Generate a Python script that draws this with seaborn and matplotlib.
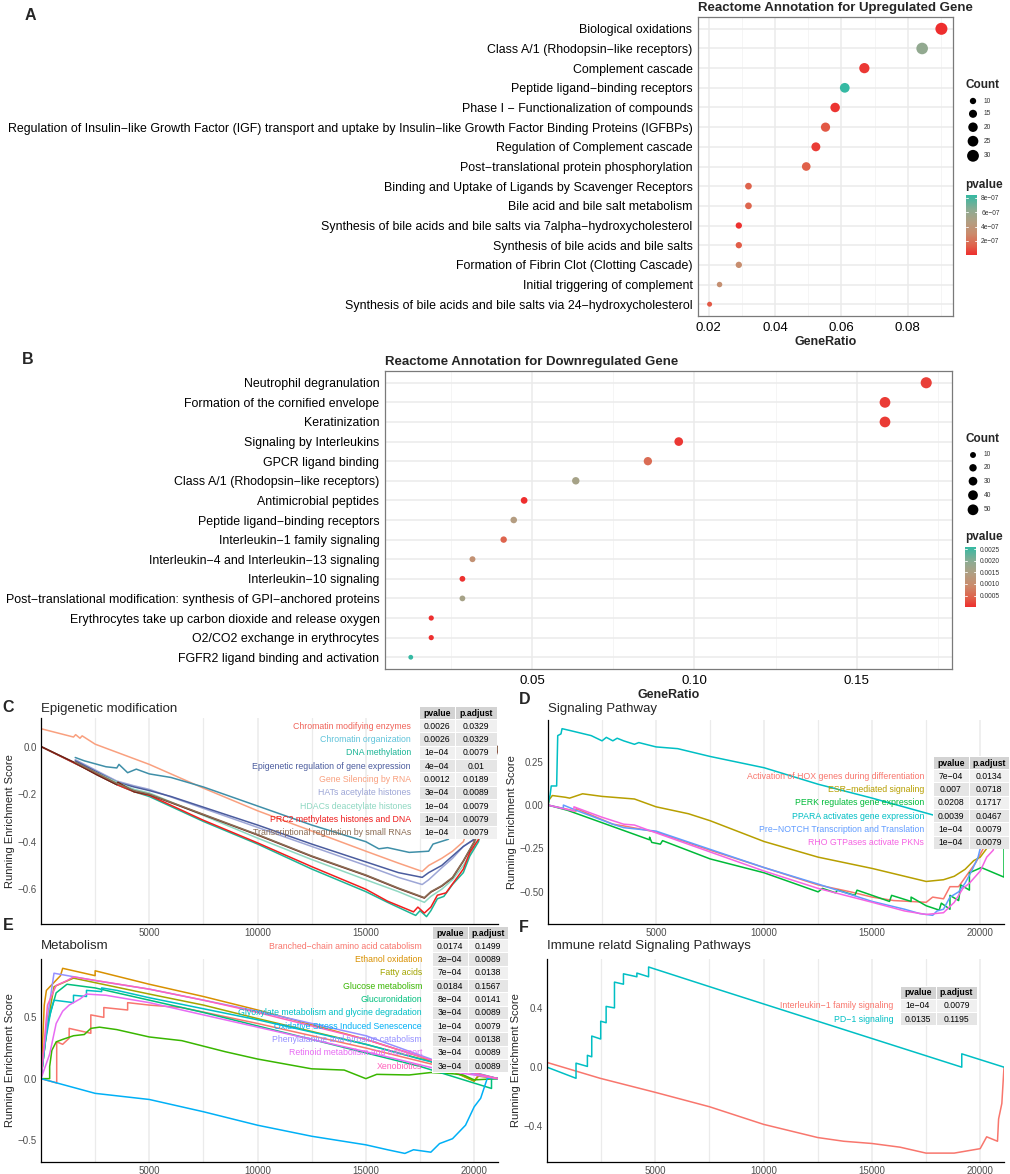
import numpy as np
import pandas as pd
import matplotlib
matplotlib.use("Agg")
import matplotlib.pyplot as plt
import seaborn as sns
from matplotlib.colors import LinearSegmentedColormap, Normalize
from matplotlib.cm import ScalarMappable
from matplotlib.patches import Rectangle

# ---------------- panel A: Reactome, upregulated ----------------
up_terms = [
    "Biological oxidations",
    "Class A/1 (Rhodopsin−like receptors)",
    "Complement cascade",
    "Peptide ligand−binding receptors",
    "Phase I − Functionalization of compounds",
    "Regulation of Insulin−like Growth Factor (IGF) transport and uptake by Insulin−like Growth Factor Binding Proteins (IGFBPs)",
    "Regulation of Complement cascade",
    "Post−translational protein phosphorylation",
    "Binding and Uptake of Ligands by Scavenger Receptors",
    "Bile acid and bile salt metabolism",
    "Synthesis of bile acids and bile salts via 7alpha−hydroxycholesterol",
    "Synthesis of bile acids and bile salts",
    "Formation of Fibrin Clot (Clotting Cascade)",
    "Initial triggering of complement",
    "Synthesis of bile acids and bile salts via 24−hydroxycholesterol",
]
up_ratio = [0.0901, 0.0843, 0.0669, 0.0610, 0.0581, 0.0552, 0.0523, 0.0494,
            0.0320, 0.0320, 0.0291, 0.0291, 0.0291, 0.0233, 0.0203]
up_count = [31, 29, 23, 21, 20, 19, 18, 17, 11, 11, 10, 10, 10, 8, 7]
up_pvalue = [2e-09, 6.1e-07, 3e-08, 8.4e-07, 2e-08, 1.1e-07, 4e-08, 1.3e-07,
             1.4e-07, 1.5e-07, 1e-08, 1.2e-07, 3.2e-07, 3.4e-07, 1.1e-07]
up_count_breaks = [10, 15, 20, 25, 30]
up_p_ticks = [2e-07, 4e-07, 6e-07, 8e-07]
up_p_labels = ["2e−07", "4e−07", "6e−07", "8e−07"]

# ---------------- panel B: Reactome, downregulated ----------------
down_terms = [
    "Neutrophil degranulation",
    "Formation of the cornified envelope",
    "Keratinization",
    "Signaling by Interleukins",
    "GPCR ligand binding",
    "Class A/1 (Rhodopsin−like receptors)",
    "Antimicrobial peptides",
    "Peptide ligand−binding receptors",
    "Interleukin−1 family signaling",
    "Interleukin−4 and Interleukin−13 signaling",
    "Interleukin−10 signaling",
    "Post−translational modification: synthesis of GPI−anchored proteins",
    "Erythrocytes take up carbon dioxide and release oxygen",
    "O2/CO2 exchange in erythrocytes",
    "FGFR2 ligand binding and activation",
]
down_ratio = [0.1714, 0.1587, 0.1587, 0.0952, 0.0857, 0.0635, 0.0476, 0.0444,
              0.0413, 0.0317, 0.0286, 0.0286, 0.0190, 0.0190, 0.0127]
down_count = [54, 50, 50, 30, 27, 20, 15, 14, 13, 10, 9, 9, 6, 6, 4]
down_pvalue = [1.5e-04, 1.2e-04, 1.2e-04, 1.0e-04, 5.5e-04, 1.6e-03, 1e-05, 1.4e-03,
               4.5e-04, 1.1e-03, 4e-05, 1.6e-03, 3e-05, 3e-05, 2.59e-03]
down_count_breaks = [10, 20, 30, 40, 50]
down_p_ticks = [0.0005, 0.0010, 0.0015, 0.0020, 0.0025]
down_p_labels = ["0.0005", "0.0010", "0.0015", "0.0020", "0.0025"]

# ---------------- panel C: Epigenetic modification ----------------
c_terms = ["Chromatin modifying enzymes", "Chromatin organization", "DNA methylation",
           "Epigenetic regulation of gene expression", "Gene Silencing by RNA",
           "HATs acetylate histones", "HDACs deacetylate histones",
           "PRC2 methylates histones and DNA", "Transcriptional regulation by small RNAs"]
c_pvalue = ["0.0026", "0.0026", "1e−04", "4e−04", "0.0012", "3e−04", "1e−04", "1e−04", "1e−04"]
c_padjust = ["0.0329", "0.0329", "0.0079", "0.01", "0.0189", "0.0089", "0.0079", "0.0079", "0.0079"]
c_label_colors = ["#F0645A", "#5FC3DA", "#1DB597", "#4B5C9E", "#F9A07F",
                  "#9DA6D6", "#8FD8C2", "#EE1C1C", "#8B6D55"]
c_line_colors = ["#6E2418", "#3F8FA8", "#1DB597", "#4B5C9E", "#F9A07F",
                 "#9DA6D6", "#8FD8C2", "#F21E1E", "#8B6D55"]

c_chrom_modifying = [(0, 0), (1500, -0.065), (2600, -0.12), (3500, -0.16), (3550, -0.15),
                     (4300, -0.19), (5000, -0.202), (7500, -0.287), (10000, -0.372),
                     (12500, -0.462), (15000, -0.542), (16500, -0.597), (17700, -0.637),
                     (18000, -0.612), (18500, -0.587), (19000, -0.552), (19500, -0.482),
                     (20000, -0.402), (21100, 0.0)]
c_chrom_org = [(1580, -0.046), (2000, -0.06), (3000, -0.085), (3500, -0.09), (3600, -0.075),
               (4000, -0.11), (4400, -0.095), (5000, -0.115), (6000, -0.13), (7500, -0.17),
               (10000, -0.25), (12500, -0.33), (15000, -0.40), (15600, -0.43), (16000, -0.425),
               (17000, -0.445), (17900, -0.44), (18100, -0.41), (18800, -0.39), (19500, -0.3),
               (20500, -0.15), (21100, 0.0)]
c_dna_methyl = [(0, 0), (2000, -0.09), (3500, -0.16), (4300, -0.19), (5000, -0.21),
                (7500, -0.315), (10000, -0.41), (12500, -0.515), (15000, -0.61), (16000, -0.655),
                (17300, -0.71), (17500, -0.69), (17800, -0.715), (18000, -0.69), (18300, -0.64),
                (18600, -0.63), (19000, -0.58), (19500, -0.53), (19800, -0.46), (20200, -0.4),
                (21100, 0.0)]
c_epigen = [(1580, -0.06), (3500, -0.15), (4300, -0.17), (5000, -0.185), (6000, -0.21),
            (7500, -0.255), (10000, -0.33), (12500, -0.41), (15000, -0.485), (16500, -0.53),
            (17600, -0.55), (17900, -0.53), (18500, -0.5), (19000, -0.46), (19500, -0.42),
            (20000, -0.39), (21100, 0.0)]
c_gene_silencing = [(0, 0.075), (1500, 0.04), (1600, 0.05), (1800, 0.035), (1900, 0.045),
                    (2500, 0.01), (5000, -0.075), (7500, -0.175), (10000, -0.27), (12500, -0.355),
                    (15000, -0.44), (16500, -0.49), (17600, -0.525), (17900, -0.5), (18500, -0.47),
                    (19000, -0.44), (19500, -0.4), (21100, 0.0)]
c_hats = [(1580, -0.055), (3500, -0.145), (4300, -0.165), (5000, -0.18), (7500, -0.26),
          (10000, -0.34), (12500, -0.42), (15000, -0.5), (16500, -0.55), (17600, -0.58),
          (17900, -0.56), (18500, -0.51), (19000, -0.47), (19500, -0.42), (20000, -0.39),
          (21100, 0.0)]
c_hdac = [(1580, -0.07), (3500, -0.15), (4300, -0.18), (5000, -0.195), (7500, -0.29),
          (10000, -0.385), (12500, -0.475), (15000, -0.56), (16500, -0.61), (17700, -0.655),
          (18000, -0.63), (18500, -0.6), (19000, -0.56), (19500, -0.5), (20000, -0.42),
          (21100, 0.0)]
c_prc2 = [(0, 0), (2000, -0.09), (3500, -0.16), (4300, -0.19), (5000, -0.205), (7500, -0.31),
          (10000, -0.405), (12500, -0.505), (15000, -0.6), (16000, -0.65), (17200, -0.695),
          (17400, -0.675), (17700, -0.7), (18000, -0.675), (18300, -0.625), (18700, -0.615),
          (19100, -0.565), (19500, -0.515), (19800, -0.445), (20200, -0.39), (21100, 0.0)]
c_transcr = [(1580, -0.065), (3500, -0.155), (4300, -0.185), (5000, -0.2), (7500, -0.285),
             (10000, -0.37), (12500, -0.46), (15000, -0.54), (16500, -0.595), (17700, -0.635),
             (18000, -0.61), (18500, -0.585), (19000, -0.55), (19500, -0.48), (20000, -0.40),
             (21100, 0.0)]
c_curves = [c_chrom_modifying, c_chrom_org, c_dna_methyl, c_epigen, c_gene_silencing,
            c_hats, c_hdac, c_prc2, c_transcr]
c_draw_order = [4, 1, 5, 3, 6, 2, 7, 0, 8]

# ---------------- panel D: Signaling Pathway ----------------
d_terms = ["Activation of HOX genes during differentiation", "ESR−mediated signaling",
           "PERK regulates gene expression", "PPARA activates gene expression",
           "Pre−NOTCH Transcription and Translation", "RHO GTPases activate PKNs"]
d_pvalue = ["7e−04", "0.007", "0.0208", "0.0039", "1e−04", "1e−04"]
d_padjust = ["0.0134", "0.0718", "0.1717", "0.0467", "0.0079", "0.0079"]
d_colors = ["#F8766D", "#B79F00", "#00BA38", "#00BFC4", "#619CFF", "#F564E3"]

d_hox = [(0, 0), (1300, -0.035), (1300, -0.02), (3000, -0.11), (3500, -0.12), (5000, -0.155),
         (7500, -0.26), (10000, -0.36), (12500, -0.46), (14000, -0.5), (15000, -0.53),
         (16000, -0.55), (17500, -0.56), (17800, -0.53), (18300, -0.54), (18600, -0.47),
         (19000, -0.47), (19400, -0.40), (19800, -0.33), (20100, -0.26), (21100, 0.0)]
d_esr = [(0, 0), (50, 0.03), (200, 0.055), (800, 0.045), (1000, 0.04), (1600, 0.065),
         (2500, 0.05), (4000, 0.035), (5000, -0.01), (6500, -0.05), (7500, -0.09),
         (10000, -0.21), (12500, -0.3), (15000, -0.365), (16500, -0.41), (17500, -0.44),
         (18300, -0.43), (18800, -0.41), (19300, -0.37), (19700, -0.32), (20000, -0.3),
         (20300, -0.25), (21100, 0.0)]
d_perk = [(0, 0), (900, -0.03), (4700, -0.2), (4700, -0.185), (4800, -0.215), (5200, -0.225),
          (5300, -0.205), (7500, -0.31), (10000, -0.39), (12500, -0.5), (12700, -0.48),
          (13300, -0.505), (13400, -0.49), (14200, -0.52), (14300, -0.49), (15000, -0.52),
          (15800, -0.555), (15900, -0.52), (16800, -0.555), (16800, -0.53), (17500, -0.58),
          (18100, -0.605), (18200, -0.565), (18600, -0.6), (18600, -0.52), (19000, -0.55),
          (19100, -0.46), (19500, -0.49), (19500, -0.39), (20050, -0.36), (21100, -0.415),
          (21100, 0.0)]
d_ppara = [(0, 0), (100, 0.06), (150, 0.11), (400, 0.11), (450, 0.40), (600, 0.41),
           (650, 0.44), (1000, 0.43), (2000, 0.40), (2500, 0.37), (2700, 0.39), (3000, 0.37),
           (3200, 0.385), (3500, 0.37), (4000, 0.35), (4200, 0.36), (5000, 0.335),
           (6000, 0.325), (7500, 0.28), (10000, 0.215), (12500, 0.12), (15000, 0.04),
           (17900, -0.06), (18500, -0.1), (21100, 0.0)]
d_notch = [(0, 0), (711, -0.02), (711, 0.0), (1300, -0.03), (3000, -0.11), (3500, -0.13),
           (5000, -0.15), (7500, -0.255), (10000, -0.36), (12500, -0.455), (15000, -0.555),
           (16500, -0.6), (17200, -0.625), (17800, -0.635), (18000, -0.61), (18300, -0.6),
           (18600, -0.53), (19000, -0.5), (19300, -0.45), (19600, -0.38), (19900, -0.3),
           (20000, -0.25), (21100, 0.0)]
d_rho = [(0, 0), (1200, -0.035), (1200, -0.01), (2500, -0.07), (3500, -0.11), (4000, -0.115),
         (5000, -0.16), (7500, -0.27), (10000, -0.38), (12500, -0.48), (15000, -0.56),
         (16500, -0.61), (17500, -0.63), (18300, -0.62), (18800, -0.56), (19200, -0.48),
         (19500, -0.45), (20000, -0.38), (20300, -0.3), (20600, -0.26), (21100, 0.0)]
d_curves = [d_hox, d_esr, d_perk, d_ppara, d_notch, d_rho]

# ---------------- panel E: Metabolism ----------------
e_terms = ["Branched−chain amino acid catabolism", "Ethanol oxidation", "Fatty acids",
           "Glucose metabolism", "Glucuronidation", "Glyoxylate metabolism and glycine degradation",
           "Oxidative Stress Induced Senescence", "Phenylalanine and tyrosine catabolism",
           "Retinoid metabolism and transport", "Xenobiotics"]
e_pvalue = ["0.0174", "2e−04", "7e−04", "0.0184", "8e−04", "3e−04", "1e−04", "7e−04", "3e−04", "3e−04"]
e_padjust = ["0.1499", "0.0089", "0.0138", "0.1567", "0.0141", "0.0089", "0.0079", "0.0138", "0.0089", "0.0089"]
e_colors = ["#F8766D", "#D89000", "#A3A500", "#39B600", "#00BF7D",
            "#00BFC4", "#00B0F6", "#9590FF", "#E76BF3", "#FF62BC"]

e_branched = [(0, 0), (725, -0.035), (725, 0.30), (1000, 0.28), (1300, 0.33), (1300, 0.41),
              (2300, 0.37), (2300, 0.52), (2900, 0.50), (2900, 0.58), (4000, 0.56), (4000, 0.62),
              (5000, 0.60), (6500, 0.58), (10000, 0.45), (15000, 0.25), (18000, 0.12),
              (20000, 0.04), (21100, 0.0)]
e_ethanol = [(0, 0), (150, 0.6), (250, 0.72), (900, 0.84), (1000, 0.90), (2500, 0.84),
             (2500, 0.88), (5000, 0.77), (7500, 0.67), (10000, 0.56), (12500, 0.44),
             (15000, 0.32), (17500, 0.18), (20000, -0.02), (20200, 0.03), (21100, 0.0)]
e_fatty = [(0, 0), (300, 0.45), (600, 0.75), (1500, 0.82), (5000, 0.69), (7500, 0.6),
           (10000, 0.49), (15000, 0.28), (18000, 0.14), (20000, -0.02), (20200, 0.02), (21100, 0.0)]
e_glucose = [(0, 0), (400, 0.0), (400, 0.1), (500, 0.23), (700, 0.3), (1000, 0.32), (1500, 0.35),
             (2000, 0.36), (2300, 0.41), (2700, 0.42), (3500, 0.40), (5000, 0.34), (6500, 0.31),
             (8500, 0.22), (10000, 0.16), (12500, 0.08), (14000, 0.07), (15000, 0.0),
             (15500, 0.035), (17000, 0.03), (18000, 0.05), (19000, 0.04), (19500, 0.03),
             (20000, -0.01), (21100, 0.0)]
e_glucuron = [(0, 0), (300, 0.45), (700, 0.7), (1200, 0.77), (2500, 0.74), (5000, 0.64),
              (7500, 0.54), (10000, 0.43), (12500, 0.32), (15000, 0.21), (17500, 0.1),
              (20800, -0.08), (20800, 0.0), (21100, 0.0)]
e_glyox = [(0, 0), (200, 0.3), (450, 0.55), (600, 0.64), (1500, 0.62), (1500, 0.68),
           (2100, 0.67), (2100, 0.72), (2800, 0.71), (2800, 0.74), (3500, 0.72), (5000, 0.66),
           (7500, 0.57), (10000, 0.48), (12500, 0.38), (15000, 0.28), (17500, 0.16),
           (20000, 0.05), (21100, 0.0)]
e_oxid = [(0, 0), (2500, -0.12), (5000, -0.17), (7500, -0.27), (10000, -0.38), (12500, -0.47),
          (15000, -0.54), (16000, -0.58), (16800, -0.61), (17200, -0.58), (18000, -0.6),
          (18400, -0.53), (19000, -0.49), (19600, -0.38), (20000, -0.23), (20300, -0.16),
          (20600, 0.0), (20800, 0.01), (21100, 0.0)]
e_phenyl = [(0, 0), (300, 0.5), (600, 0.86), (2500, 0.8), (5000, 0.73), (7500, 0.64),
            (10000, 0.55), (12500, 0.45), (15000, 0.35), (18000, 0.16), (20000, 0.04), (21100, 0.0)]
e_retinoid = [(0, 0), (400, 0.2), (700, 0.45), (1000, 0.55), (1300, 0.6), (1800, 0.65),
              (2100, 0.69), (3000, 0.68), (5000, 0.62), (7500, 0.52), (10000, 0.42),
              (12500, 0.32), (15000, 0.22), (18500, 0.07), (21100, 0.0)]
e_xeno = [(0, 0), (300, 0.6), (700, 0.76), (1200, 0.8), (1500, 0.83), (5000, 0.73),
          (7500, 0.64), (10000, 0.54), (12500, 0.43), (15000, 0.32), (17500, 0.18),
          (19500, 0.07), (21100, 0.0)]
e_curves = [e_branched, e_ethanol, e_fatty, e_glucose, e_glucuron, e_glyox,
            e_oxid, e_phenyl, e_retinoid, e_xeno]

# ---------------- panel F: Immune related ----------------
f_terms = ["Interleukin−1 family signaling", "PD−1 signaling"]
f_pvalue = ["1e−04", "0.0135"]
f_padjust = ["0.0079", "0.1195"]
f_colors = ["#F8766D", "#00BFC4"]

f_il1 = [(0, 0.032), (2450, -0.075), (5000, -0.17), (7500, -0.267), (10000, -0.386),
         (12500, -0.475), (13700, -0.5), (15000, -0.515), (16300, -0.54), (17500, -0.58),
         (18800, -0.58), (20000, -0.55), (20300, -0.47), (20800, -0.5), (20850, -0.35),
         (21000, -0.245), (21100, 0.0)]
f_pd1 = [(0, 0), (1340, -0.075), (1340, 0.027), (1865, 0.005), (1865, 0.08), (2066, 0.07),
         (2066, 0.21), (2480, 0.19), (2480, 0.31), (2730, 0.30), (2730, 0.41), (3115, 0.40),
         (3115, 0.574), (3530, 0.56), (3530, 0.63), (4150, 0.61), (4150, 0.635), (4690, 0.61),
         (4690, 0.676), (8000, 0.52), (11000, 0.38), (19150, 0.0), (19150, 0.09), (21100, 0.0)]
f_curves = [f_il1, f_pd1]

gsea_xticks = [5000, 10000, 15000, 20000]

# ---------------- layout helpers (pixel boxes) ----------------
W, H = 1010, 1174

sns.set_theme(style="white")
plt.rcParams["font.family"] = ["Liberation Sans", "DejaVu Sans"]
plt.rcParams["axes.unicode_minus"] = True

pv_cmap = LinearSegmentedColormap.from_list(
    "pv", [(0.0, "#EE2E2E"), (0.15, "#E0604A"), (0.35, "#CB8A6B"),
           (0.55, "#B29E82"), (0.75, "#8EAB92"), (1.0, "#35B9A3")])


def box(left, top, right, bottom):
    return [left / W, 1 - bottom / H, (right - left) / W, (bottom - top) / H]


def fx(x):
    return x / W


def fy(y):
    return 1 - y / H


def area(c, sizes, norm):
    return sizes[0] + (c - norm[0]) / (norm[1] - norm[0]) * (sizes[1] - sizes[0])


def dot_panel(fig, rect, terms, ratio, count, pvalue, sizes, size_norm, title,
              xticks, xminor, xfmt, breaks, legend_x, legend_y, p_ticks, p_labels, cbar_box):
    ax = fig.add_axes(box(*rect))
    df = pd.DataFrame({"Description": terms, "GeneRatio": ratio, "Count": count, "pvalue": pvalue})
    sns.scatterplot(data=df, x="GeneRatio", y="Description", hue="pvalue", palette=pv_cmap,
                    hue_norm=(min(pvalue), max(pvalue)), size="Count", sizes=sizes,
                    size_norm=size_norm, linewidth=0, legend=False, ax=ax, zorder=3)
    n = len(terms)
    ax.set_ylim(n - 0.4, -0.6)
    lo, hi = min(ratio), max(ratio)
    pad = 0.05 * (hi - lo)
    ax.set_xlim(lo - pad, hi + pad)
    ax.set_xticks(xticks)
    ax.set_xticklabels([xfmt.format(v) for v in xticks])
    ax.set_xticks(xminor, minor=True)
    ax.grid(True, which="major", color="#EBEBEB", linewidth=1.1)
    ax.grid(True, which="minor", axis="x", color="#F4F4F4", linewidth=0.6)
    ax.set_axisbelow(True)
    for sp in ax.spines.values():
        sp.set_visible(True)
        sp.set_color("#7A7A7A")
        sp.set_linewidth(0.9)
    ax.tick_params(axis="both", which="major", length=2.5, width=0.6, color="#333333",
                   labelsize=8.9, labelcolor="black", pad=1.5)
    ax.tick_params(axis="x", which="major", labelsize=9.5, pad=2)
    ax.tick_params(which="minor", length=0)
    ax.set_ylabel("")
    ax.set_xlabel("GeneRatio", fontsize=9, weight="bold", labelpad=1)
    ax.set_title(title, loc="left", fontsize=9.5, weight="bold", pad=4)

    # size legend
    fig.text(fx(legend_x), fy(legend_y), "Count", fontsize=8.5, weight="bold", va="center")
    lax = fig.add_axes(box(legend_x - 2, legend_y + 6, legend_x + 45, legend_y + 84))
    lax.set_xlim(0, 47)
    lax.set_ylim(78, 0)
    lax.axis("off")
    ys = [10 + 12.5 * i + 0.3 * i * i for i in range(len(breaks))]
    lax.scatter([10] * len(breaks), ys, s=[area(b, sizes, size_norm) for b in breaks],
                color="black", linewidth=0, clip_on=False)
    for b, yy in zip(breaks, ys):
        lax.text(21, yy, str(b), fontsize=4.8, va="center", color="#333333")

    # colour bar
    fig.text(fx(legend_x), fy(cbar_box[1] - 10), "pvalue", fontsize=8.5, weight="bold", va="center")
    cax = fig.add_axes(box(*cbar_box))
    sm = ScalarMappable(norm=Normalize(min(pvalue), max(pvalue)), cmap=pv_cmap)
    cb = fig.colorbar(sm, cax=cax)
    cb.outline.set_visible(False)
    cb.set_ticks(p_ticks)
    cb.set_ticklabels(p_labels)
    cax.tick_params(length=0, labelsize=4.8, labelcolor="#333333", pad=3)
    for t in p_ticks:
        cax.axhline(t, xmin=0, xmax=0.2, color="white", lw=0.6)
        cax.axhline(t, xmin=0.8, xmax=1, color="white", lw=0.6)
    return ax


def gsea_panel(fig, rect, terms, curves, colors, order, title, ylim, yticks, title_pad,
               hidden_xlabels=()):
    ax = fig.add_axes(box(*rect))
    frames = []
    for i in order:
        pts = curves[i]
        frames.append(pd.DataFrame({"rank": [p[0] for p in pts], "score": [p[1] for p in pts],
                                    "Description": terms[i]}))
    df = pd.concat(frames, ignore_index=True)
    sns.lineplot(data=df, x="rank", y="score", hue="Description",
                 hue_order=[terms[i] for i in order],
                 palette={terms[i]: colors[i] for i in order},
                 sort=False, estimator=None, linewidth=1.1, legend=False, ax=ax)
    ax.set_xlim(0, 21100)
    ax.set_ylim(*ylim)
    ax.set_xticks(gsea_xticks)
    ax.set_xticklabels(["" if v in hidden_xlabels else str(v) for v in gsea_xticks])
    ax.set_xticks([2500, 7500, 12500, 17500], minor=True)
    ax.set_yticks(yticks)
    ax.grid(True, axis="x", which="major", color="#EBEBEB", linewidth=1.1)
    ax.grid(True, axis="x", which="minor", color="#EBEBEB", linewidth=0.9)
    ax.grid(False, axis="y")
    ax.set_axisbelow(True)
    for side in ("top", "right"):
        ax.spines[side].set_visible(False)
    for side in ("left", "bottom"):
        ax.spines[side].set_color("black")
        ax.spines[side].set_linewidth(0.9)
    ax.tick_params(axis="both", which="major", length=2, width=0.6, color="#333333",
                   labelsize=7, labelcolor="#4D4D4D", pad=1)
    ax.tick_params(which="minor", length=0)
    ax.set_xlabel("")
    ax.set_ylabel("Running Enrichment Score", fontsize=8, labelpad=2)
    ax.set_title(title, loc="left", fontsize=9.5, pad=title_pad)
    return ax


def draw_table(fig, terms, colors, pvals, padjs, label_right, col1, col2, header_y, row_h):
    n = len(terms)
    top = header_y - row_h / 2
    bottom = header_y + row_h * n + row_h / 2
    fig.add_artist(Rectangle((fx(col1[0]), fy(bottom)), (col2[0] + col2[1] - col1[0]) / W,
                             (bottom - top) / H, transform=fig.transFigure,
                             facecolor="white", edgecolor="none", zorder=4))
    rows = [("pvalue", "p.adjust")] + list(zip(pvals, padjs))
    for i, (a, b) in enumerate(rows):
        yc = header_y + i * row_h
        fill = "#D3D3D3" if i == 0 else ("#F0F0F0" if i % 2 else "#E5E5E5")
        for (left, width), txt in zip((col1, col2), (a, b)):
            fig.add_artist(Rectangle((fx(left + 0.5), fy(yc + row_h / 2 - 0.5)), (width - 1) / W,
                                     (row_h - 1) / H, transform=fig.transFigure,
                                     facecolor=fill, edgecolor="none", zorder=5))
            fig.text(fx(left + width / 2), fy(yc), txt, ha="center", va="center",
                     fontsize=6.2, weight="bold" if i == 0 else "normal", color="black", zorder=6)
    for i, (name, c) in enumerate(zip(terms, colors)):
        fig.text(fx(label_right), fy(header_y + (i + 1) * row_h), name, color=c,
                 ha="right", va="center", fontsize=6.3, zorder=6)


fig = plt.figure(figsize=(W / 100, H / 100), dpi=100)

dot_panel(fig, (698, 17, 953, 316), up_terms, up_ratio, up_count, up_pvalue,
          (13, 75), (7, 31), "Reactome Annotation for Upregulated Gene",
          [0.02, 0.04, 0.06, 0.08], [0.03, 0.05, 0.07, 0.09], "{:.2f}",
          up_count_breaks, 965, 85, up_p_ticks, up_p_labels, (966, 195, 977, 255))
dot_panel(fig, (385, 371, 952, 669), down_terms, down_ratio, down_count, down_pvalue,
          (12, 64), (4, 54), "Reactome Annotation for Downregulated Gene",
          [0.05, 0.10, 0.15], [0.025, 0.075, 0.125, 0.175], "{:.2f}",
          down_count_breaks, 965, 439, down_p_ticks, down_p_labels, (965, 547, 976, 607))

gsea_panel(fig, (41, 718, 498, 924), c_terms, c_curves, c_line_colors, c_draw_order,
           "Epigenetic modification", (-0.746, 0.12), [-0.6, -0.4, -0.2, 0.0], 4,
           hidden_xlabels=(20000,))
gsea_panel(fig, (548, 720, 1004, 924), d_terms, d_curves, d_colors, range(6),
           "Signaling Pathway", (-0.685, 0.49), [-0.5, -0.25, 0.0, 0.25], 6)
gsea_panel(fig, (41, 959, 498, 1162), e_terms, e_curves, e_colors, range(10),
           "Metabolism", (-0.68, 0.976), [-0.5, 0.0, 0.5], 7)
gsea_panel(fig, (547, 959, 1004, 1162), f_terms, f_curves, f_colors, range(2),
           "Immune relatd Signaling Pathways", (-0.64, 0.73), [-0.4, 0.0, 0.4], 7)

draw_table(fig, c_terms, c_label_colors, c_pvalue, c_padjust, 411, (419, 36), (455, 42), 713, 13.3)
draw_table(fig, d_terms, d_colors, d_pvalue, d_padjust, 924, (933, 36), (969, 40), 763, 13.3)
draw_table(fig, e_terms, e_colors, e_pvalue, e_padjust, 422, (432, 36), (468, 40), 933, 13.33)
draw_table(fig, f_terms, f_colors, f_pvalue, f_padjust, 893, (900, 36), (936, 41), 992.7, 13.3)

for lab, x, y in [("A", 30, 15), ("B", 28, 360), ("C", 8, 708),
                  ("D", 525, 700), ("E", 8, 925), ("F", 524, 928)]:
    fig.text(fx(x), fy(y), lab, fontsize=11.5, weight="bold", ha="center", va="center")

fig.savefig("out.png", dpi=100)
